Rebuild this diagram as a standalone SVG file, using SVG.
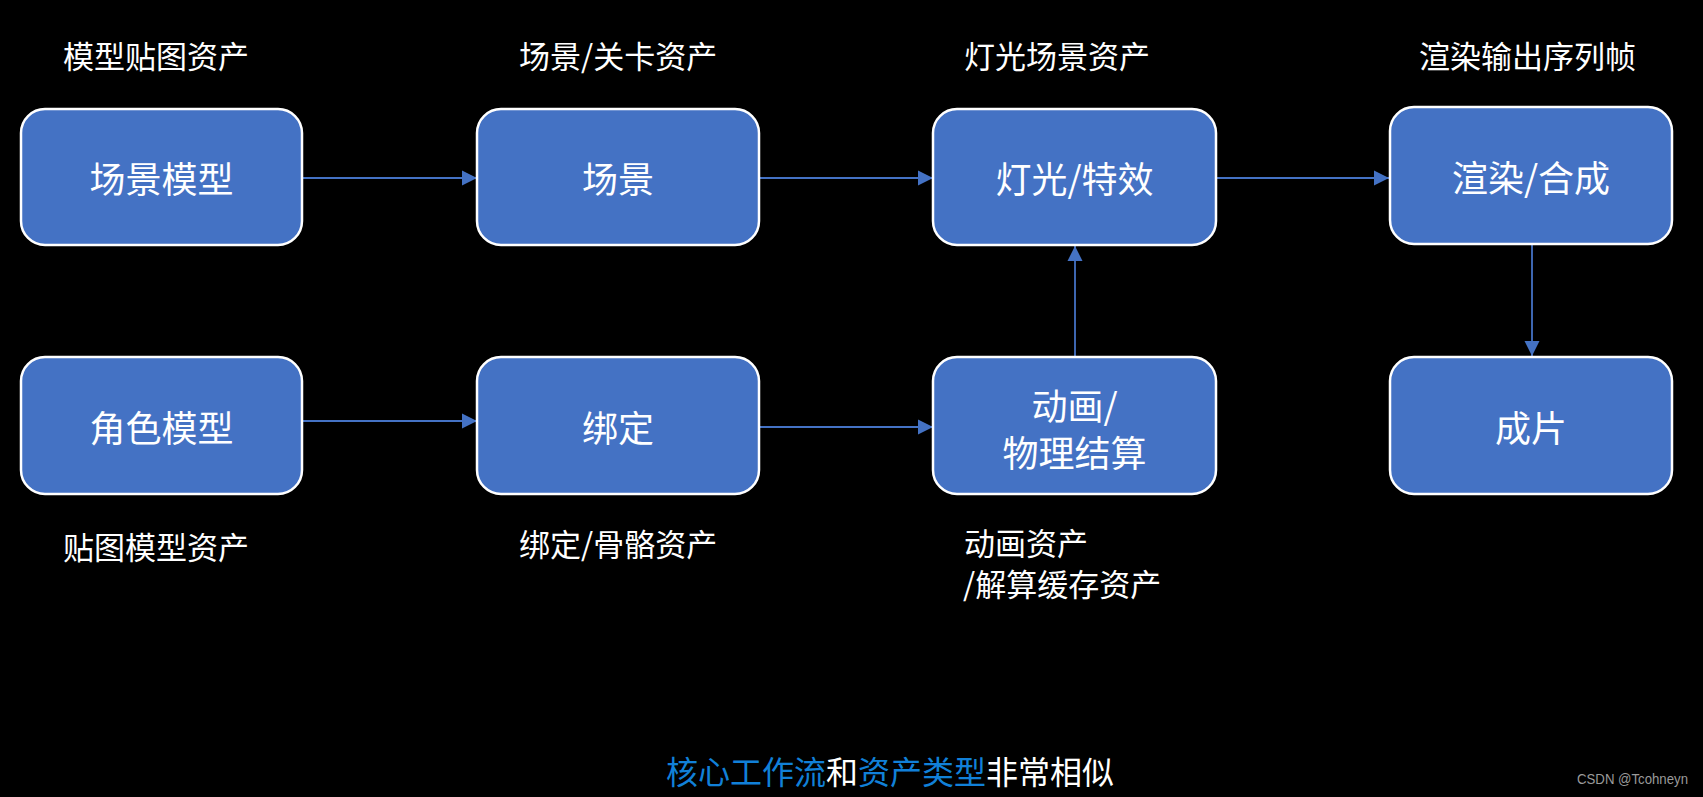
<svg xmlns="http://www.w3.org/2000/svg" width="1703" height="797" viewBox="0 0 1703 797">
<defs>
<style>
.box{fill:#4472C4;stroke:#FFFFFF;stroke-width:2.5}
.bt{font-family:"Noto Sans CJK SC","Liberation Sans",sans-serif;font-size:36px;fill:#FFFFFF;text-anchor:middle;dominant-baseline:central}
.lb{font-family:"Noto Sans CJK SC","Liberation Sans",sans-serif;font-size:31px;fill:#FFFFFF;dominant-baseline:central}
.cap{font-family:"Noto Sans CJK SC","Liberation Sans",sans-serif;font-size:32px;fill:#FFFFFF;dominant-baseline:central}
.blue{fill:#1180D8}
.wm{font-family:"Liberation Sans",Arial,sans-serif;font-size:14px;fill:#9a9a9a;text-anchor:end}
.conn{stroke:#4472C4;stroke-width:1.8;fill:none}
</style>
<marker id="ah" markerUnits="userSpaceOnUse" markerWidth="16" markerHeight="16" viewBox="0 0 16 16" refX="15" refY="8" orient="auto">
<path d="M0,0.5 L15,8 L0,15.5 Z" fill="#4472C4"/>
</marker>
</defs>
<rect width="1703" height="797" fill="#000000"/>

<g id="connectors">
<line class="conn" x1="303" y1="178" x2="477" y2="178" marker-end="url(#ah)"/>
<line class="conn" x1="760" y1="178" x2="933" y2="178" marker-end="url(#ah)"/>
<line class="conn" x1="1217" y1="178" x2="1389" y2="178" marker-end="url(#ah)"/>
<line class="conn" x1="1532" y1="245" x2="1532" y2="356" marker-end="url(#ah)"/>
<line class="conn" x1="1075" y1="357" x2="1075" y2="246" marker-end="url(#ah)"/>
<line class="conn" x1="303" y1="421" x2="477" y2="421" marker-end="url(#ah)"/>
<line class="conn" x1="760" y1="427" x2="933" y2="427" marker-end="url(#ah)"/>
</g>

<g id="node-scene-model">
<rect class="box" x="21" y="109" width="281" height="136" rx="24"/>
<text class="bt" x="161.5" y="177">场景模型</text>
</g>
<g id="node-scene">
<rect class="box" x="477" y="109" width="282" height="136" rx="24"/>
<text class="bt" x="618" y="177">场景</text>
</g>
<g id="node-light">
<rect class="box" x="933" y="109" width="283" height="136" rx="24"/>
<text class="bt" x="1074.5" y="177">灯光/特效</text>
</g>
<g id="node-render">
<rect class="box" x="1390" y="107" width="282" height="137" rx="24"/>
<text class="bt" x="1531" y="176">渲染/合成</text>
</g>
<g id="node-char-model">
<rect class="box" x="21" y="357" width="281" height="137" rx="24"/>
<text class="bt" x="161.5" y="426">角色模型</text>
</g>
<g id="node-rig">
<rect class="box" x="477" y="357" width="282" height="137" rx="24"/>
<text class="bt" x="618" y="426">绑定</text>
</g>
<g id="node-anim">
<rect class="box" x="933" y="357" width="283" height="137" rx="24"/>
<text class="bt" x="1074.5" y="404">动画/</text>
<text class="bt" x="1074.5" y="451">物理结算</text>
</g>
<g id="node-final">
<rect class="box" x="1390" y="357" width="282" height="137" rx="24"/>
<text class="bt" x="1531" y="426">成片</text>
</g>

<g id="labels">
<text class="lb" x="63" y="54">模型贴图资产</text>
<text class="lb" x="519" y="54">场景/关卡资产</text>
<text class="lb" x="964" y="54">灯光场景资产</text>
<text class="lb" x="1419" y="54">渲染输出序列帧</text>
<text class="lb" x="63" y="545">贴图模型资产</text>
<text class="lb" x="519" y="542">绑定/骨骼资产</text>
<text class="lb" x="964" y="541">动画资产</text>
<text class="lb" x="963" y="582">/解算缓存资产</text>
</g>

<text class="cap" x="666" y="770"><tspan class="blue">核心工作流</tspan>和<tspan class="blue">资产类型</tspan>非常相似</text>
<text class="wm" x="1688" y="784" textLength="111" lengthAdjust="spacingAndGlyphs">CSDN @Tcohneyn</text>
</svg>
